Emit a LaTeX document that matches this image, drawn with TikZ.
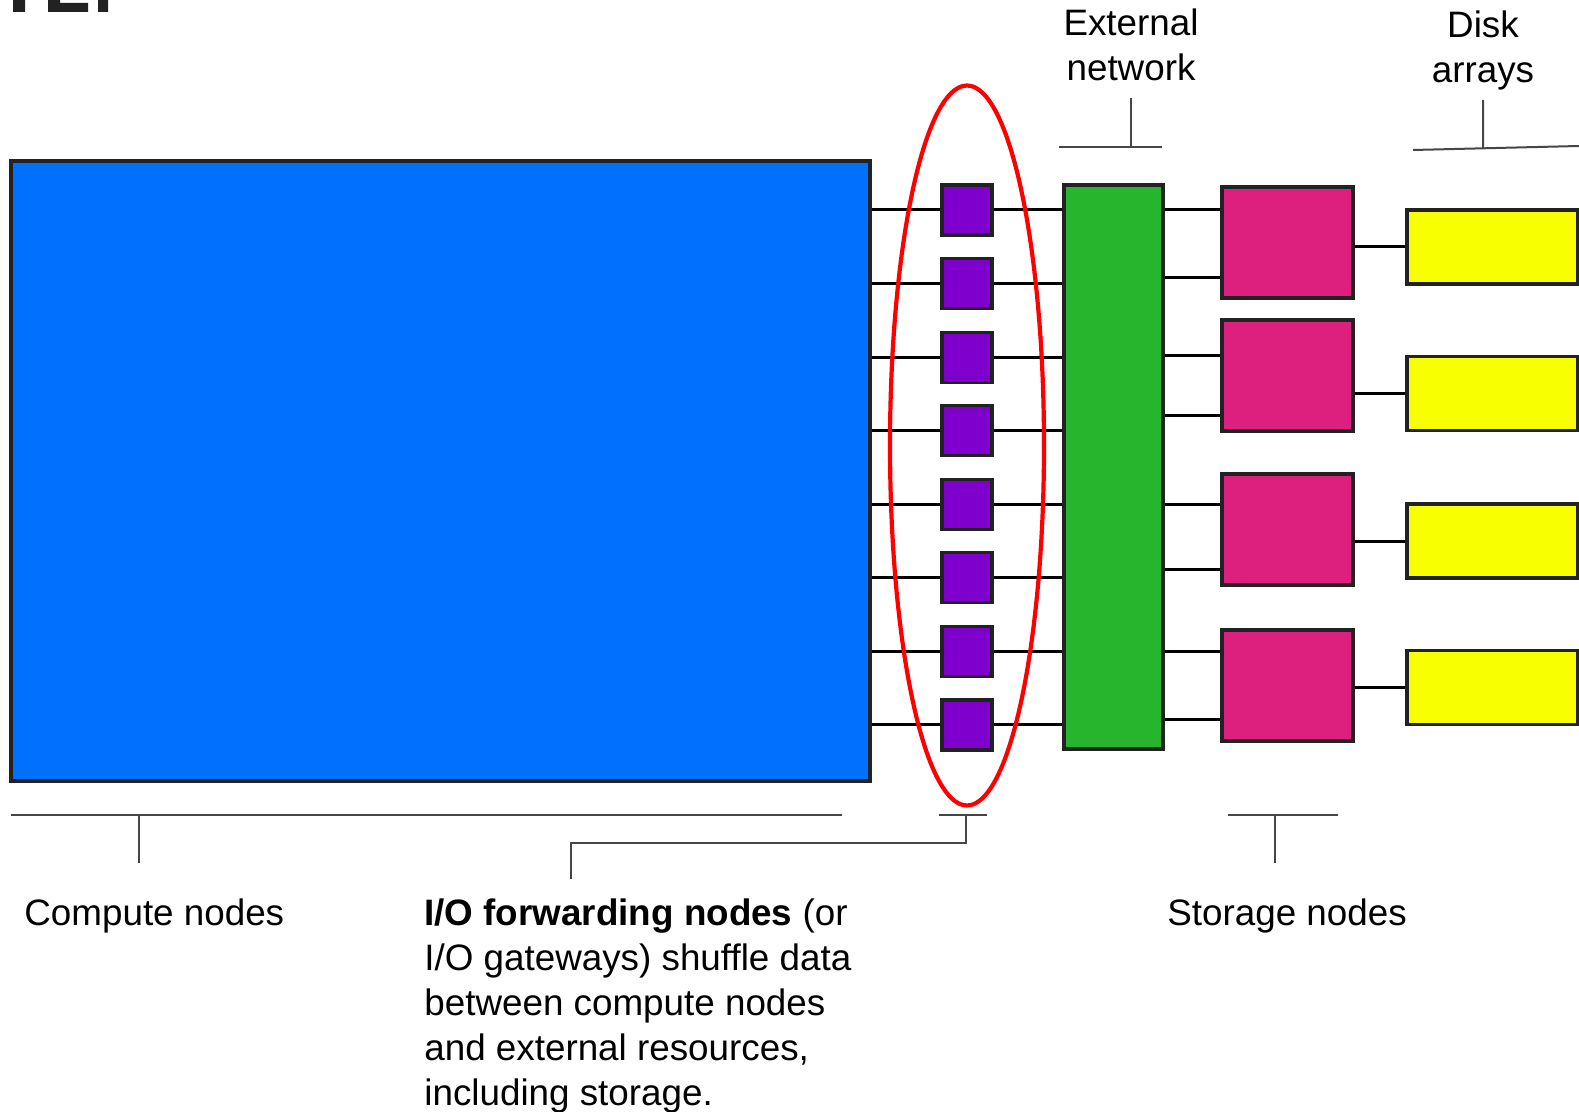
\documentclass[tikz,border=0pt]{standalone}
\usepackage{fontspec}
\setmainfont{Liberation Sans}
\usetikzlibrary{calc}

\definecolor{cmpblue}{RGB}{0,112,255}
\definecolor{iopurple}{RGB}{127,0,204}
\definecolor{netgreen}{RGB}{38,181,44}
\definecolor{stomagenta}{RGB}{221,31,126}
\definecolor{diskyellow}{RGB}{247,255,0}
\definecolor{edgegray}{RGB}{34,34,34}
\definecolor{brkgray}{RGB}{70,70,70}

\begin{document}
\begin{tikzpicture}[x=0.5pt,y=-0.5pt,
  box/.style={draw=edgegray,line width=1.6pt,inner sep=0pt},
  wire/.style={black,line width=1.5pt},
  brk/.style={brkgray,line width=1pt},
  lbl/.style={inner sep=0pt,font=\fontsize{18.4}{22.5}\selectfont}]
\useasboundingbox (0,0) rectangle (1579,1112);
% heading cut off at the top edge
\fill[edgegray] (13,0) rectangle (25,12) (48,0) rectangle (60,12) (60,3) rectangle (88,12) (98,0) rectangle (108,12);

% machine blocks
\node[box,fill=cmpblue,minimum width=429.5pt,minimum height=310pt] (cmp) at (440.5,471) {};
\foreach \i in {1,...,8}
  \node[box,fill=iopurple,minimum size=25pt] (io\i) at (967,{210+73.57*(\i-1)}) {};
\node[box,fill=netgreen,minimum width=49.5pt,minimum height=282pt] (net) at (1113.5,467) {};
\foreach \n/\y in {1/242.5,2/375.5,3/529.5,4/685.5}
  \node[box,fill=stomagenta,minimum width=65.5pt,minimum height=55.5pt] (sto\n) at (1287.5,\y) {};
\foreach \n/\y in {1/247,2/393.5,3/541,4/687.5}
  \node[box,fill=diskyellow,minimum width=85.5pt,minimum height=37pt] (dsk\n) at (1492.5,\y) {};

% links
\foreach \i in {1,...,8}
  \draw[wire] (cmp.east |- io\i.west) -- (io\i.west) (io\i.east) -- (io\i.east -| net.west);
\foreach \n/\y in {1/210,1/278,2/356,2/416,3/504,3/569,4/651,4/719}
  \draw[wire] (net.east |- 0,\y) -- (sto\n.west |- 0,\y);
\foreach \n in {1,...,4}
  \draw[wire] (sto\n.east |- dsk\n.west) -- (dsk\n.west);

\draw[red,line width=2.1pt] (967,445.5) ellipse [x radius=38.5pt,y radius=180pt];

% brackets
\draw[brk] (11,815) -- (842,815) (139,815) -- (139,863);
\draw[brk] (939,815) -- (987,815) (966,815) -- (966,843) -- (571,843) -- (571,879);
\draw[brk] (1228,815) -- (1338,815) (1275,815) -- (1275,863);
\draw[brk] (1059,147) -- (1162,147) (1131,98) -- (1131,147);
\draw[brk] (1413,150) -- (1579,146) (1483,100) -- (1483,148);

% labels (base = last line)
\node[lbl,anchor=base west] (cmplbl) at (24,925) {Compute nodes};
\node[lbl,anchor=base west,align=left] (iolbl) at (424,1105)
  {\textbf{I/O forwarding nodes} (or\\I/O gateways) shuffle data\\between compute nodes\\and external resources,\\including storage.};
\node[lbl,anchor=base west] (stolbl) at (1167,925) {Storage nodes};
\node[lbl,anchor=base,align=center] (netlbl) at (1131,81) {External\\network};
\node[lbl,anchor=base,align=center] (dsklbl) at (1483,83) {Disk\\arrays};
\end{tikzpicture}
\end{document}
